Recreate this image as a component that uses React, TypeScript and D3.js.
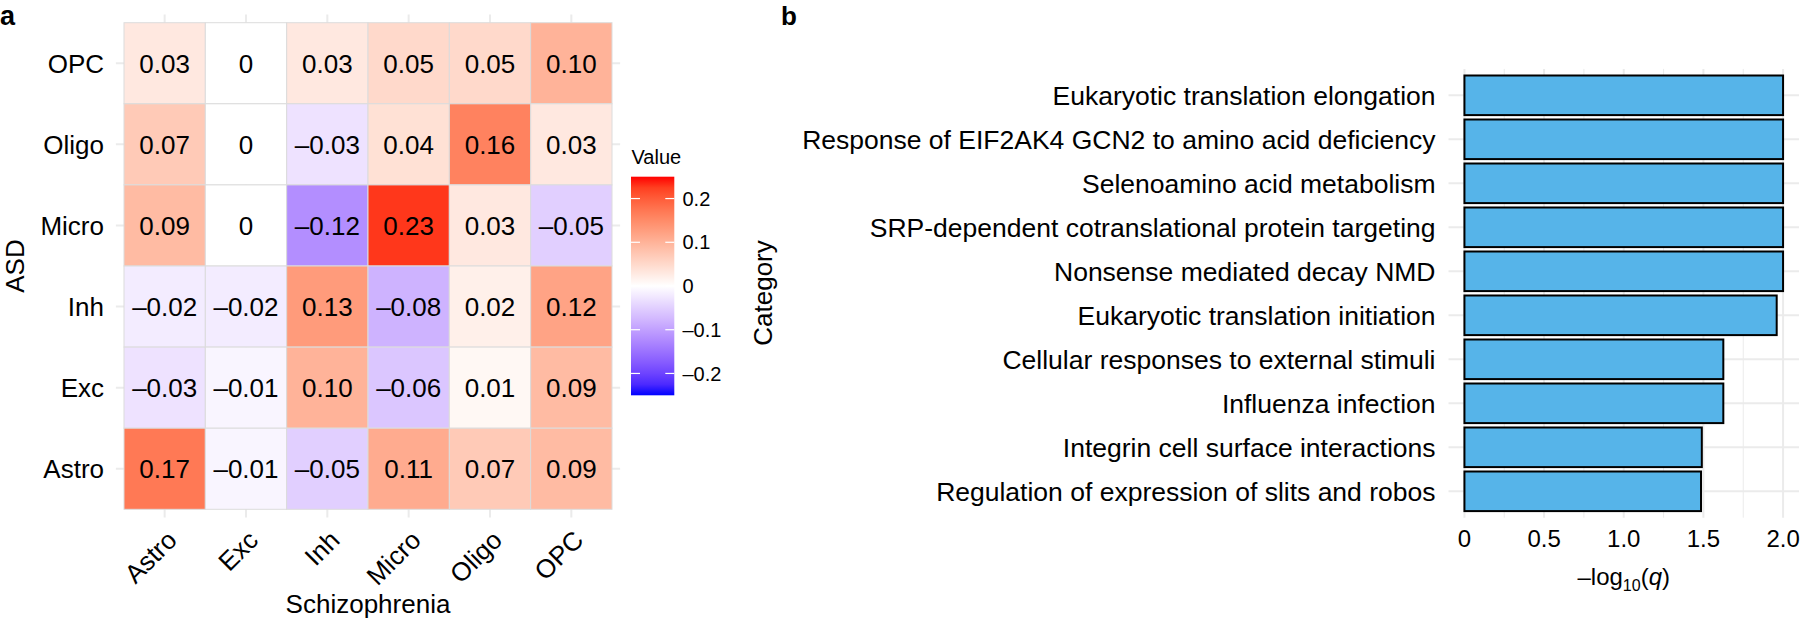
import React from "react";
import * as d3 from "d3";

// ---------- Panel a: heatmap data ----------
const schizoTypes = ["Astro", "Exc", "Inh", "Micro", "Oligo", "OPC"]; // x (Schizophrenia)
const asdTypes = ["OPC", "Oligo", "Micro", "Inh", "Exc", "Astro"]; // y top -> bottom (ASD)
const rowOPC = [0.03, 0, 0.03, 0.05, 0.05, 0.1];
const rowOligo = [0.07, 0, -0.03, 0.04, 0.16, 0.03];
const rowMicro = [0.09, 0, -0.12, 0.23, 0.03, -0.05];
const rowInh = [-0.02, -0.02, 0.13, -0.08, 0.02, 0.12];
const rowExc = [-0.03, -0.01, 0.1, -0.06, 0.01, 0.09];
const rowAstro = [0.17, -0.01, -0.05, 0.11, 0.07, 0.09];
const heatRows = [rowOPC, rowOligo, rowMicro, rowInh, rowExc, rowAstro];
const legendTicks = [0.2, 0.1, 0, -0.1, -0.2];
const colorLimit = 0.25;

// ---------- Panel b: bar data ----------
const pathways = [
  "Eukaryotic translation elongation",
  "Response of EIF2AK4 GCN2 to amino acid deficiency",
  "Selenoamino acid metabolism",
  "SRP-dependent cotranslational protein targeting",
  "Nonsense mediated decay NMD",
  "Eukaryotic translation initiation",
  "Cellular responses to external stimuli",
  "Influenza infection",
  "Integrin cell surface interactions",
  "Regulation of expression of slits and robos",
];
const negLogQ = [2.0, 2.0, 2.0, 2.0, 2.0, 1.96, 1.625, 1.625, 1.49, 1.485];
const barTicks = [0, 0.5, 1.0, 1.5, 2.0];
const barTickLabels = ["0", "0.5", "1.0", "1.5", "2.0"];

const FONT = "'Liberation Sans', Arial, Helvetica, sans-serif";
const GRID = "#ebebeb";

const fmt = (v: number) =>
  v === 0 ? "0" : (v < 0 ? "\u2013" : "") + Math.abs(v).toFixed(2);
const fmtLeg = (v: number) =>
  v === 0 ? "0" : (v < 0 ? "\u2013" : "") + String(Math.abs(v));

export default function App() {
  // Heatmap scales
  const hx = d3.scaleBand<string>().domain(schizoTypes).range([124, 612]).padding(0);
  const hy = d3.scaleBand<string>().domain(asdTypes).range([22.7, 509.3]).padding(0);
  const color = d3
    .scaleLinear<string>()
    .domain([-colorLimit, 0, colorLimit])
    .range(["#0000ff", "#ffffff", "#ff0000"])
    .interpolate(d3.interpolateLab);
  const hbw = hx.bandwidth();
  const hbh = hy.bandwidth();
  const panelL = 124 - 0.1 * hbw;
  const panelR = 612 + 0.1 * hbw;
  const panelT = 22.7 - 0.1 * hbh;
  const panelB = 509.3 + 0.1 * hbh;

  // Legend scale
  const ly = d3.scaleLinear().domain([-colorLimit, colorLimit]).range([395.3, 176.7]);
  const gradStops = d3.range(0, 1.0001, 0.05);

  // Bar chart scales
  const maxV = d3.max(negLogQ) as number;
  const bx = d3.scaleLinear().domain([-0.05 * maxV, 1.05 * maxV]).range([1448.5, 1799]);
  const by = d3.scalePoint<string>().domain(pathways).range([95.3, 491.3]);
  const step = by.step();
  const bTop = 95.3 - 0.6 * step;
  const bBot = 491.3 + 0.6 * step;
  const minorTicks = d3.range(0.25, 2.1, 0.5);

  return (
    <svg
      width={1800}
      height={621}
      style={{ position: "absolute", left: 0, top: 0, background: "#fff" }}
      fontFamily={FONT}
    >
      {/* ---------------- Panel a ---------------- */}
      <text x={0} y={24.5} fontSize={27} fontWeight="bold">a</text>

      {/* grid lines (visible in margins) */}
      {schizoTypes.map((c) => {
        const x = (hx(c) as number) + hbw / 2;
        return <line key={"gx" + c} x1={x} x2={x} y1={panelT} y2={panelB} stroke={GRID} strokeWidth={2} />;
      })}
      {asdTypes.map((r) => {
        const y = (hy(r) as number) + hbh / 2;
        return <line key={"gy" + r} x1={panelL} x2={panelR} y1={y} y2={y} stroke={GRID} strokeWidth={2} />;
      })}

      {/* tiles */}
      {heatRows.map((row, i) =>
        row.map((v, j) => (
          <rect
            key={`t${i}-${j}`}
            x={hx(schizoTypes[j]) as number}
            y={hy(asdTypes[i]) as number}
            width={hbw}
            height={hbh}
            fill={color(v)}
            stroke="#dcdcdc"
            strokeWidth={1}
          />
        ))
      )}
      {heatRows.map((row, i) =>
        row.map((v, j) => (
          <text
            key={`l${i}-${j}`}
            x={(hx(schizoTypes[j]) as number) + hbw / 2}
            y={(hy(asdTypes[i]) as number) + hbh / 2}
            dy="0.36em"
            textAnchor="middle"
            fontSize={26}
            fill="#000"
          >
            {fmt(v)}
          </text>
        ))
      )}

      {/* y axis labels */}
      {asdTypes.map((r) => (
        <text
          key={"yl" + r}
          x={104}
          y={(hy(r) as number) + hbh / 2}
          dy="0.36em"
          textAnchor="end"
          fontSize={26}
        >
          {r}
        </text>
      ))}
      {/* x axis labels rotated */}
      {schizoTypes.map((c) => {
        const x = (hx(c) as number) + hbw / 2;
        const y = 528;
        return (
          <text
            key={"xl" + c}
            x={x}
            y={y}
            transform={`rotate(-45 ${x} ${y})`}
            textAnchor="end"
            dy="0.75em"
            fontSize={26}
          >
            {c}
          </text>
        );
      })}
      <text x={368} y={613} textAnchor="middle" fontSize={26}>Schizophrenia</text>
      <text
        x={24}
        y={266}
        transform="rotate(-90 24 266)"
        textAnchor="middle"
        fontSize={26}
      >
        ASD
      </text>

      {/* legend */}
      <defs>
        <linearGradient id="legGrad" x1="0" y1="1" x2="0" y2="0">
          {gradStops.map((t) => (
            <stop
              key={"s" + t}
              offset={`${t * 100}%`}
              stopColor={color(-colorLimit + t * 2 * colorLimit)}
            />
          ))}
        </linearGradient>
      </defs>
      <text x={631.5} y={163.5} fontSize={20}>Value</text>
      <rect
        x={631}
        y={ly(colorLimit)}
        width={43.3}
        height={ly(-colorLimit) - ly(colorLimit)}
        fill="url(#legGrad)"
      />
      {legendTicks.map((t) => (
        <g key={"lt" + t}>
          <line x1={631} x2={640} y1={ly(t)} y2={ly(t)} stroke="#fff" strokeWidth={1.2} />
          <line x1={665.3} x2={674.3} y1={ly(t)} y2={ly(t)} stroke="#fff" strokeWidth={1.2} />
          <text x={682.5} y={ly(t)} dy="0.36em" fontSize={20}>
            {fmtLeg(t)}
          </text>
        </g>
      ))}

      {/* ---------------- Panel b ---------------- */}
      <text x={781} y={24.5} fontSize={26} fontWeight="bold">b</text>

      {/* grid */}
      {minorTicks.map((t) => (
        <line key={"mn" + t} x1={bx(t)} x2={bx(t)} y1={bTop} y2={bBot} stroke={GRID} strokeWidth={1} />
      ))}
      {barTicks.map((t) => (
        <line key={"mj" + t} x1={bx(t)} x2={bx(t)} y1={bTop} y2={bBot} stroke={GRID} strokeWidth={2} />
      ))}
      {pathways.map((p) => (
        <line
          key={"hg" + p}
          x1={bx.range()[0]}
          x2={bx.range()[1]}
          y1={by(p) as number}
          y2={by(p) as number}
          stroke={GRID}
          strokeWidth={2}
        />
      ))}

      {/* bars */}
      {pathways.map((p, i) => (
        <rect
          key={"b" + p}
          x={bx(0)}
          y={(by(p) as number) - 0.45 * step}
          width={bx(negLogQ[i]) - bx(0)}
          height={0.9 * step}
          fill="#56B4E9"
          stroke="#000"
          strokeWidth={2}
        />
      ))}

      {/* y labels */}
      {pathways.map((p) => (
        <text
          key={"pl" + p}
          x={1435.5}
          y={by(p) as number}
          dy="0.36em"
          textAnchor="end"
          fontSize={26.5}
        >
          {p}
        </text>
      ))}
      {/* x tick labels */}
      {barTicks.map((t, i) => (
        <text key={"xt" + t} x={bx(t)} y={547} textAnchor="middle" fontSize={24}>
          {barTickLabels[i]}
        </text>
      ))}
      <text x={bx(1.0)} y={585} textAnchor="middle" fontSize={24}>
        {"\u2013log"}
        <tspan fontSize={16} dy={6}>10</tspan>
        <tspan dy={-6}>(</tspan>
        <tspan fontStyle="italic">q</tspan>
        <tspan>)</tspan>
      </text>
      <text
        x={772}
        y={293}
        transform="rotate(-90 772 293)"
        textAnchor="middle"
        fontSize={26}
      >
        Category
      </text>
    </svg>
  );
}
